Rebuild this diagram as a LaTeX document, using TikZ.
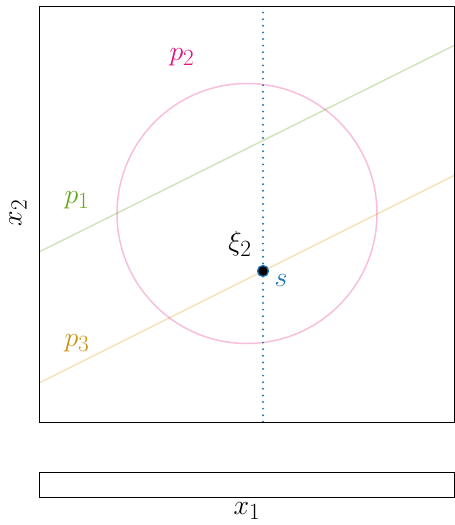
\documentclass[tikz,border=0pt]{standalone}
\usepackage{amsmath}
\begin{document}
\begin{tikzpicture}[x=1pt,y=-1pt,
  lbl/.style={inner sep=0pt,scale=1.12,font=\fontsize{24.88}{30}\selectfont},
  frame/.style={draw=black,line width=1.1pt},
  faint/.style={line width=1.5pt,opacity=0.3}]
\definecolor{cgreen}{HTML}{66A61E}
\definecolor{cpink}{HTML}{E7298A}
\definecolor{cmag}{HTML}{E4107E}
\definecolor{cgold}{HTML}{C8920A}
\definecolor{cblue}{HTML}{1F77B4}
\definecolor{corange}{HTML}{D9A021}
\useasboundingbox (0,0) rectangle (455,525);
\begin{scope}
\clip (39,6) rectangle (454,422);
\coordinate (g1) at (39,252);
\coordinate (g2) at (455,45);
\coordinate (o1) at (39,383);
\coordinate (o2) at (455,175);
\draw[faint,draw=cgreen] (g1) -- (g2);
\draw[faint,draw=corange] (o1) -- (o2);
\draw[faint,draw=cpink] (247,213.5) circle (130);
\coordinate (vt) at (263,6);
\coordinate (vb) at (263,422);
\draw[cblue,line width=2.2pt,line cap=round,dash pattern=on 0pt off 6.6pt] (vt) -- (vb);
\end{scope}
\node[frame,minimum width=415pt,minimum height=416pt,inner sep=0pt,anchor=north west] (ax) at (39,6) {};
\node[frame,minimum width=415pt,minimum height=25pt,inner sep=0pt,anchor=north west] (bx) at (39,472) {};
\node[circle,fill=black,draw=cblue,line width=1.3pt,minimum size=11pt,inner sep=0pt] (s) at (263,271) {};
\node[lbl] (xi) at (240,244) {$\xi_2$};
\node[lbl,text=cblue] (sl) at (281,280) {$s$};
\node[lbl,text=cmag] (p2) at (182,57) {$p_2$};
\node[lbl,text=cgreen] (p1) at (77,200) {$p_1$};
\node[lbl,text=cgold] (p3) at (77,343) {$p_3$};
\node[lbl,rotate=90] (x2) at (18,213) {$x_2$};
\node[lbl] (x1) at (247,511) {$x_1$};
\end{tikzpicture}
\end{document}
